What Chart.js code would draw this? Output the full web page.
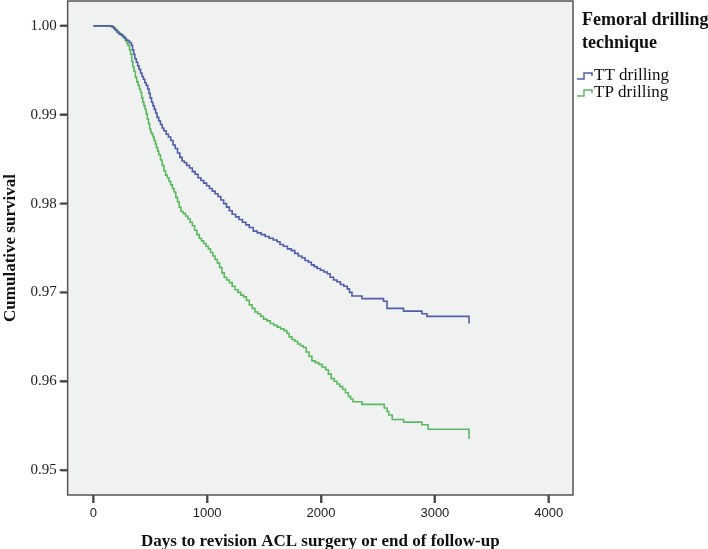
<!DOCTYPE html>
<html>
<head>
<meta charset="utf-8">
<script src="https://cdn.jsdelivr.net/npm/chart.js@4.4.1/dist/chart.umd.min.js"></script>
<style>
html,body{margin:0;padding:0;background:#fff;}
#wrap{width:708px;height:549px;}
</style>
</head>
<body>
<div id="wrap"><canvas id="c" width="708" height="549"></canvas></div>
<script>
const seriesNames = ["TT drilling", "TP drilling"];
const xTicks = [0, 1000, 2000, 3000, 4000];
const yTicks = [0.95, 0.96, 0.97, 0.98, 0.99, 1.00];
const legendTitle = ["Femoral drilling", "technique"];

const ttDays = [0,165,180,195,210,225,240,258,275,290,305,320,335,345,355,365,378,390,402,415,428,440,452,465,478,490,500,512,524,536,548,560,575,590,605,620,640,660,680,700,720,740,760,780,800,820,845,870,895,920,945,970,995,1020,1045,1070,1095,1120,1145,1170,1195,1220,1250,1280,1310,1340,1370,1405,1440,1475,1510,1545,1580,1615,1640,1670,1705,1740,1770,1800,1830,1860,1890,1915,1940,1965,1995,2025,2055,2080,2110,2140,2170,2200,2230,2250,2272,2360,2549,2580,2725,2886,2930,3300];
const ttSurv = [1.0,0.9999,0.9997,0.9995,0.9993,0.9991,0.9990,0.9988,0.9986,0.9984,0.9983,0.9981,0.9978,0.9973,0.9968,0.9963,0.9959,0.9955,0.9951,0.9947,0.9943,0.9940,0.9936,0.9933,0.9929,0.9924,0.9919,0.9914,0.9910,0.9906,0.9902,0.9897,0.9893,0.9889,0.9885,0.9882,0.9878,0.9875,0.9871,0.9866,0.9862,0.9857,0.9852,0.9848,0.9846,0.9843,0.9840,0.9836,0.9833,0.9829,0.9826,0.9823,0.9820,0.9817,0.9814,0.9811,0.9808,0.9804,0.9800,0.9796,0.9792,0.9788,0.9785,0.9782,0.9779,0.9776,0.9773,0.9769,0.9767,0.9765,0.9763,0.9761,0.9759,0.9757,0.9754,0.9752,0.9749,0.9747,0.9744,0.9741,0.9739,0.9736,0.9734,0.9731,0.9729,0.9727,0.9725,0.9723,0.9721,0.9717,0.9714,0.9712,0.9709,0.9707,0.9704,0.9700,0.9696,0.9693,0.9690,0.9682,0.9679,0.9676,0.9673,0.9665];

const tpDays = [0,160,175,190,205,220,235,250,265,280,292,305,318,328,338,348,358,370,382,394,405,415,425,435,445,455,465,475,485,495,505,515,525,535,545,555,565,575,590,605,620,635,650,665,680,695,710,725,740,755,770,790,810,830,850,870,890,910,930,950,970,990,1010,1030,1050,1070,1090,1110,1130,1150,1170,1195,1220,1245,1270,1295,1320,1345,1370,1395,1420,1445,1470,1495,1525,1555,1585,1615,1645,1675,1700,1720,1745,1770,1795,1820,1845,1870,1895,1920,1950,1980,2010,2040,2065,2090,2115,2140,2165,2190,2215,2240,2260,2280,2360,2555,2580,2595,2625,2725,2886,2940,3300];
const tpSurv = [1.0,0.9999,0.9998,0.9996,0.9994,0.9992,0.9991,0.9989,0.9987,0.9984,0.9981,0.9978,0.9973,0.9968,0.9960,0.9954,0.9949,0.9942,0.9937,0.9933,0.9929,0.9925,0.9919,0.9914,0.9910,0.9906,0.9901,0.9895,0.9890,0.9884,0.9880,0.9878,0.9875,0.9871,0.9867,0.9863,0.9859,0.9855,0.9849,0.9843,0.9837,0.9832,0.9829,0.9825,0.9821,0.9817,0.9813,0.9807,0.9802,0.9796,0.9791,0.9789,0.9786,0.9783,0.9779,0.9775,0.9770,0.9765,0.9761,0.9758,0.9755,0.9752,0.9749,0.9745,0.9741,0.9737,0.9733,0.9728,0.9722,0.9717,0.9714,0.9711,0.9707,0.9703,0.9700,0.9697,0.9695,0.9691,0.9686,0.9682,0.9678,0.9676,0.9673,0.9670,0.9668,0.9665,0.9663,0.9661,0.9659,0.9657,0.9654,0.9650,0.9647,0.9645,0.9642,0.9640,0.9638,0.9633,0.9628,0.9623,0.9621,0.9619,0.9616,0.9613,0.9608,0.9603,0.9600,0.9597,0.9594,0.9591,0.9587,0.9583,0.9580,0.9577,0.9574,0.9570,0.9566,0.9562,0.9557,0.9554,0.9551,0.9546,0.9546];
const tpEnd = [3300, 0.9535];

const colors = ["#4f5dab", "#5cb960"];

function pts(d, s){ return d.map((x,i)=>({x:x, y:s[i]})); }
const tpPts = pts(tpDays, tpSurv); tpPts.push({x:tpEnd[0], y:tpEnd[1]});

const frame = {
  id:'frame',
  beforeDatasetsDraw(chart){
    const {ctx, chartArea:a} = chart;
    ctx.save();
    ctx.fillStyle = '#f0f2f2';
    ctx.fillRect(a.left, a.top, a.right-a.left, a.bottom-a.top);
    ctx.restore();
  },
  afterDraw(chart){
    const ctx = chart.ctx;
    const a = chart.chartArea;
    const xs = chart.scales.x, ys = chart.scales.y;
    ctx.save();
    ctx.strokeStyle = '#555';
    ctx.lineWidth = 1.5;
    ctx.strokeRect(a.left, a.top, a.right-a.left, a.bottom-a.top);
    ctx.beginPath();
    yTicks.forEach(v => { const p = ys.getPixelForValue(v); ctx.moveTo(a.left - 8, p); ctx.lineTo(a.left, p); });
    xTicks.forEach(v => { const p = xs.getPixelForValue(v); ctx.moveTo(p, a.bottom); ctx.lineTo(p, a.bottom + 8); });
    ctx.strokeStyle = '#444';
    ctx.lineWidth = 1.8;
    ctx.stroke();
    ctx.fillStyle = '#111';
    ctx.textBaseline = 'middle';
    ctx.textAlign = 'left';
    ctx.font = 'bold 18px "Liberation Serif"';
    ctx.fillText(legendTitle[0], 582, 20);
    ctx.fillText(legendTitle[1], 582, 43);
    ctx.font = '17px "Liberation Serif"';
    const lys = [76, 93];
    seriesNames.forEach((n,i)=>{
      const y = lys[i];
      ctx.strokeStyle = colors[i];
      ctx.lineWidth = 1.5;
      ctx.beginPath();
      ctx.moveTo(577, y+3); ctx.lineTo(584, y+3); ctx.lineTo(584, y-3); ctx.lineTo(592, y-3); ctx.lineTo(592, y);
      ctx.stroke();
      ctx.fillStyle = '#111';
      ctx.fillText(n, 594, y);
    });
    ctx.restore();
  }
};

function noPadY(s){ s.paddingTop = 0; s.paddingBottom = 0; }

new Chart(document.getElementById('c'), {
  type: 'line',
  data: {
    datasets: [
      {label: seriesNames[0], data: pts(ttDays, ttSurv), borderColor: colors[0], borderWidth: 1.6, stepped: 'before', pointRadius: 0, fill: false, tension: 0},
      {label: seriesNames[1], data: tpPts, borderColor: colors[1], borderWidth: 1.6, stepped: 'before', pointRadius: 0, fill: false, tension: 0}
    ]
  },
  options: {
    responsive: false,
    animation: false,
    events: [],
    layout: {padding: {left: 0, right: 135, top: 1, bottom: -3}},
    plugins: {legend: {display: false}, tooltip: {enabled: false}},
    scales: {
      x: {
        type: 'linear', min: -225, max: 4213,
        afterBuildTicks: s => { s.ticks = xTicks.map(v => ({value: v})); },
        grid: {display: true, drawOnChartArea: false, drawTicks: true, tickLength: 8, tickColor: '#444', tickWidth: 1.8},
        border: {display: false},
        ticks: {color: '#222', font: {family: '"Liberation Sans"', size: 13}, padding: 3, maxRotation: 0, callback: v => String(v)},
        title: {display: true, text: 'Days to revision ACL surgery or end of follow-up', color: '#111', font: {family: '"Liberation Serif"', size: 17, weight: 'bold'}, padding: {top: 7, bottom: 0}}
      },
      y: {
        type: 'linear', min: 0.9472, max: 1.0028,
        afterBuildTicks: s => { s.ticks = yTicks.map(v => ({value: v})); },
        afterFit: noPadY,
        grid: {display: true, drawOnChartArea: false, drawTicks: true, tickLength: 7, tickColor: '#444', tickWidth: 1.8},
        border: {display: false},
        ticks: {color: '#222', font: {family: '"Liberation Serif"', size: 15}, padding: 4, callback: v => v.toFixed(2)},
        title: {display: true, text: 'Cumulative survival', color: '#111', font: {family: '"Liberation Serif"', size: 17, weight: 'bold'}, padding: {top: 0, bottom: 6}}
      }
    }
  },
  plugins: [frame]
});
</script>
</body>
</html>
